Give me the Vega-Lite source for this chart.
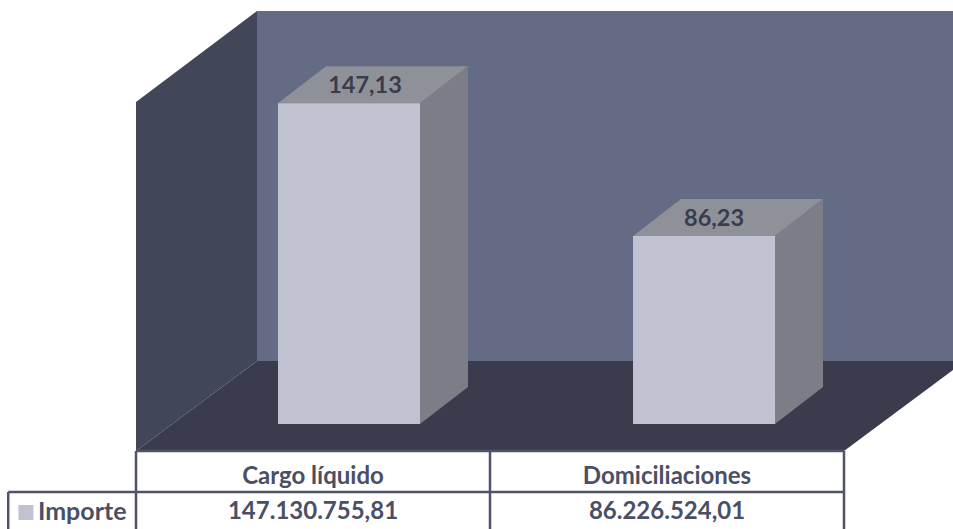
{
"$schema":"https://vega.github.io/schema/vega-lite/v6.json",
"width":953,"height":529,"padding":0,"autosize":{"type":"none"},
"background":"white",
"config":{"view":{"stroke":null},"font":"Lato"},
"datasets":{
"importes":[
{"categoria":"Cargo líquido","importe":147.13,"etiqueta":"147,13","total":"147.130.755,81","pos":0.5,"desde":0.4011,"hasta":0.8023,"etq_x":0.647,"etq_y":155.0},
{"categoria":"Domiciliaciones","importe":86.23,"etiqueta":"86,23","total":"86.226.524,01","pos":1.5,"desde":1.404,"hasta":1.8051,"etq_x":1.633,"etq_y":94.0}
],
"caras":[
{"pieza":"pared izquierda","sup":"izquierda","x":0,"y":147.7,"y2":-12.39},
{"pieza":"pared izquierda","sup":"izquierda","x":0.3418,"y":189.4,"y2":28.9},
{"pieza":"pared fondo","sup":"fondo","x":0.3418,"y":189.4,"y2":28.9},
{"pieza":"pared fondo","sup":"fondo","x":2.3079,"y":189.4,"y2":28.9},
{"pieza":"suelo","sup":"suelo","x":0,"y":-12.39,"y2":-12.39},
{"pieza":"suelo","sup":"suelo","x":0.3418,"y":28.9,"y2":-12.39},
{"pieza":"suelo","sup":"suelo","x":2,"y":28.9,"y2":-12.39},
{"pieza":"suelo","sup":"suelo","x":2.3079,"y":28.9,"y2":24.77},
{"pieza":"b1 techo","sup":"techo","x":0.4011,"y":147.13,"y2":147.13},
{"pieza":"b1 techo","sup":"techo","x":0.5367,"y":164.13,"y2":147.13},
{"pieza":"b1 techo","sup":"techo","x":0.8023,"y":164.13,"y2":147.13},
{"pieza":"b1 techo","sup":"techo","x":0.9379,"y":164.13,"y2":164.13},
{"pieza":"b1 lado","sup":"lado","x":0.8023,"y":147.13,"y2":0},
{"pieza":"b1 lado","sup":"lado","x":0.9379,"y":164.13,"y2":17},
{"pieza":"b2 techo","sup":"techo","x":1.404,"y":86.23,"y2":86.23},
{"pieza":"b2 techo","sup":"techo","x":1.5395,"y":103.23,"y2":86.23},
{"pieza":"b2 techo","sup":"techo","x":1.8051,"y":103.23,"y2":86.23},
{"pieza":"b2 techo","sup":"techo","x":1.9407,"y":103.23,"y2":103.23},
{"pieza":"b2 lado","sup":"lado","x":1.8051,"y":86.23,"y2":0},
{"pieza":"b2 lado","sup":"lado","x":1.9407,"y":103.23,"y2":17}
],
"tabla":[
{"x":0,"x2":2,"y":-12.39,"y2":-12.39},
{"x":-0.361,"x2":2,"y":-31.2,"y2":-31.2},
{"x":-0.361,"x2":-0.361,"y":-31.2,"y2":-48.17},
{"x":0,"x2":0,"y":-12.39,"y2":-48.17},
{"x":1,"x2":1,"y":-12.39,"y2":-48.17},
{"x":2,"x2":2,"y":-12.39,"y2":-48.17}
],
"serie":[{"serie":"Importe","x":-0.277,"xm":-0.311,"y":-40.6}]
},
"layer":[
{"data":{"name":"caras"},"mark":{"type":"area","interpolate":"linear"},
"encoding":{
"x":{"field":"x","type":"quantitative","scale":{"domain":[-0.3842,2.3079],"nice":false,"zero":false},"axis":null},
"y":{"field":"y","type":"quantitative","stack":null,"scale":{"domain":[-48.17,194.5],"nice":false,"zero":false},"axis":null},
"y2":{"field":"y2"},
"detail":{"field":"pieza"},
"color":{"field":"sup","type":"nominal","legend":null,"scale":{"domain":["izquierda","fondo","suelo","techo","lado"],"range":["#424659","#646B85","#3A3C4E","#8F9199","#7D7D87"]}}
}},
{"data":{"name":"importes"},"mark":{"type":"rect","color":"#C0C2D1"},
"encoding":{
"x":{"field":"desde","type":"quantitative"},"x2":{"field":"hasta"},
"y":{"field":"importe","type":"quantitative"},"y2":{"datum":0}
}},
{"data":{"name":"importes"},"mark":{"type":"text","fontSize":23.5,"fontWeight":"bold","color":"#3A3C4E","font":"Lato"},
"encoding":{
"x":{"field":"etq_x","type":"quantitative"},"y":{"field":"etq_y","type":"quantitative"},"text":{"field":"etiqueta"}
}},
{"data":{"name":"tabla"},"mark":{"type":"rule","strokeWidth":2.5,"color":"#4F546B"},
"encoding":{
"x":{"field":"x","type":"quantitative"},"x2":{"field":"x2"},
"y":{"field":"y","type":"quantitative"},"y2":{"field":"y2"}
}},
{"data":{"name":"importes"},"mark":{"type":"text","fontSize":24,"fontWeight":"bold","color":"#4A4F65","font":"Lato"},
"encoding":{
"x":{"field":"pos","type":"quantitative"},"y":{"datum":-24.3},"text":{"field":"categoria"}
}},
{"data":{"name":"importes"},"mark":{"type":"text","fontSize":24,"fontWeight":"bold","color":"#4A4F65","font":"Lato"},
"encoding":{
"x":{"field":"pos","type":"quantitative"},"y":{"datum":-40.6},"text":{"field":"total"}
}},
{"data":{"name":"serie"},"mark":{"type":"point","shape":"square","filled":true,"size":225,"opacity":1,"color":"#C0C2D1"},
"encoding":{
"x":{"field":"xm","type":"quantitative"},"y":{"field":"y","type":"quantitative"}
}},
{"data":{"name":"serie"},"mark":{"type":"text","align":"left","fontSize":25,"fontWeight":"bold","color":"#4A4F65","font":"Lato"},
"encoding":{
"x":{"field":"x","type":"quantitative"},"y":{"field":"y","type":"quantitative"},"text":{"field":"serie"}
}}
]
}
